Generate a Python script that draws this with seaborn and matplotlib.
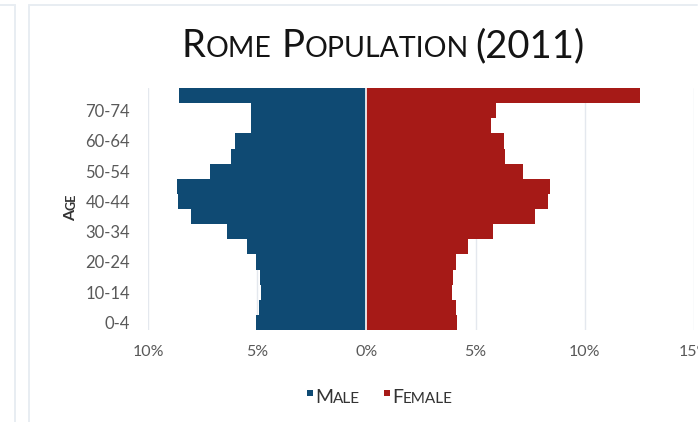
import numpy as np
import pandas as pd
import seaborn as sns
import matplotlib
matplotlib.use("Agg")
import matplotlib.pyplot as plt
from matplotlib.transforms import IdentityTransform
from matplotlib.lines import Line2D
from matplotlib.patches import Rectangle

# Age groups, oldest first so they stack from top to bottom
ages = ["75+", "70-74", "65-69", "60-64", "55-59", "50-54", "45-49", "40-44",
        "35-39", "30-34", "25-29", "20-24", "15-19", "10-14", "5-9", "0-4"]
# Share of the population (%) in each age group
male = [8.56, 5.28, 5.28, 6.01, 6.21, 7.16, 8.65, 8.61,
        8.04, 6.36, 5.47, 5.05, 4.89, 4.83, 4.92, 5.05]
female = [12.52, 5.95, 5.72, 6.30, 6.33, 7.17, 8.41, 8.33,
          7.72, 5.80, 4.65, 4.11, 3.98, 3.90, 4.08, 4.16]
labelled_ages = ["70-74", "60-64", "50-54", "40-44", "30-34", "20-24", "10-14", "0-4"]
x_ticks = [-10, -5, 0, 5, 10, 15]

BLUE = "#0F4A73"
RED = "#A61A17"
GREY = "#595959"
FONT = "Lato"

sns.set_theme(style="white")
plt.rcParams["font.family"] = [FONT, "DejaVu Sans"]

df = pd.DataFrame({
    "age": ages * 2,
    "sex": ["Male"] * len(ages) + ["Female"] * len(ages),
    "pct": [-v for v in male] + female,
})

W, H = 698, 422
fig = plt.figure(figsize=(W / 100, H / 100), dpi=100)
ax = fig.add_axes([148 / W, 1 - 330 / H, (694 - 148) / W, (330 - 88) / H])

sns.barplot(data=df, x="pct", y="age", hue="sex", order=ages,
            hue_order=["Male", "Female"], palette=[BLUE, RED],
            saturation=1, dodge=False, width=1.0, linewidth=0,
            legend=False, orient="h", ax=ax)
# thin white divider between the two halves
ax.axvline(0, color="white", linewidth=1.2, zorder=5)

ax.set_xlim(-10, 15)
ax.set_xticks(x_ticks)
ax.set_xticklabels([f"{abs(t)}%" for t in x_ticks])
ax.set_yticks(range(len(ages)))
ax.set_yticklabels([a if a in labelled_ages else "" for a in ages])
ax.set_xlabel("")
ax.set_ylabel("")
ax.set_axisbelow(True)
ax.grid(axis="x", color="#E4E8EE", linewidth=1.0)
ax.grid(axis="y", visible=False)
for s in ax.spines.values():
    s.set_visible(False)
ax.tick_params(axis="x", length=0, pad=11, labelsize=11.5, labelcolor=GREY)
ax.tick_params(axis="y", length=0, pad=13, labelsize=12, labelcolor=GREY)
for lab in ax.get_xticklabels() + ax.get_yticklabels():
    lab.set_fontfamily(FONT)

renderer = fig.canvas.get_renderer()


def small_caps(pieces, x, y, center=True, rotation=0, weight="normal"):
    """Lay out (text, size, color, gap) pieces along a baseline in pixel coords."""
    texts, advances = [], []
    for s, size, color, gap in pieces:
        t = fig.text(0, 0, s, fontsize=size, color=color, family=FONT,
                     weight=weight, ha="left", va="baseline",
                     rotation=rotation, rotation_mode="anchor",
                     transform=IdentityTransform())
        bb = t.get_window_extent(renderer)
        adv = bb.width if rotation == 0 else bb.height
        texts.append(t)
        advances.append(adv + gap)
    total = sum(advances)
    start = x if rotation == 0 else y
    pos = (start - total / 2) if center else start
    for t, adv in zip(texts, advances):
        if rotation == 0:
            t.set_position((pos, y))
        else:
            t.set_position((x, pos))
        pos += adv


# Title in small caps
big, small = 27.5, 20.5
ink = "#141414"
small_caps([("R", big, ink, 0), ("OME", small, ink, 10),
            ("P", big, ink, 0), ("OPULATION", small, ink, 7),
            ("(2011)", big, ink, 0)], 383, H - 57)

# Axis label, rotated small caps
small_caps([("A", 11.5, "#333333", 0), ("GE", 9, "#333333", 0)],
           75, H - 207, rotation=90, weight="bold")

# Legend: coloured squares followed by small-caps labels
leg_y = H - 403
for (name_big, name_small, color, x0) in [("M", "ALE", BLUE, 307), ("F", "EMALE", RED, 384)]:
    fig.patches.append(Rectangle((x0, leg_y + 7), 6, 6, facecolor=color,
                                 edgecolor="none", transform=IdentityTransform()))
    small_caps([(name_big, 14, "#333333", 0), (name_small, 11, "#333333", 0)],
               x0 + 8, leg_y, center=False)

# Outer frame lines
frame = "#E8EDF2"
for xs, ys in [((15, 15), (0, H - 5)), ((29, 29), (0, H - 5)),
               ((0, 15), (H - 5, H - 5)), ((29, 697), (H - 5, H - 5))]:
    fig.add_artist(Line2D(xs, ys, color=frame, linewidth=1.4,
                          transform=IdentityTransform()))

fig.savefig("out.png", dpi=100)
